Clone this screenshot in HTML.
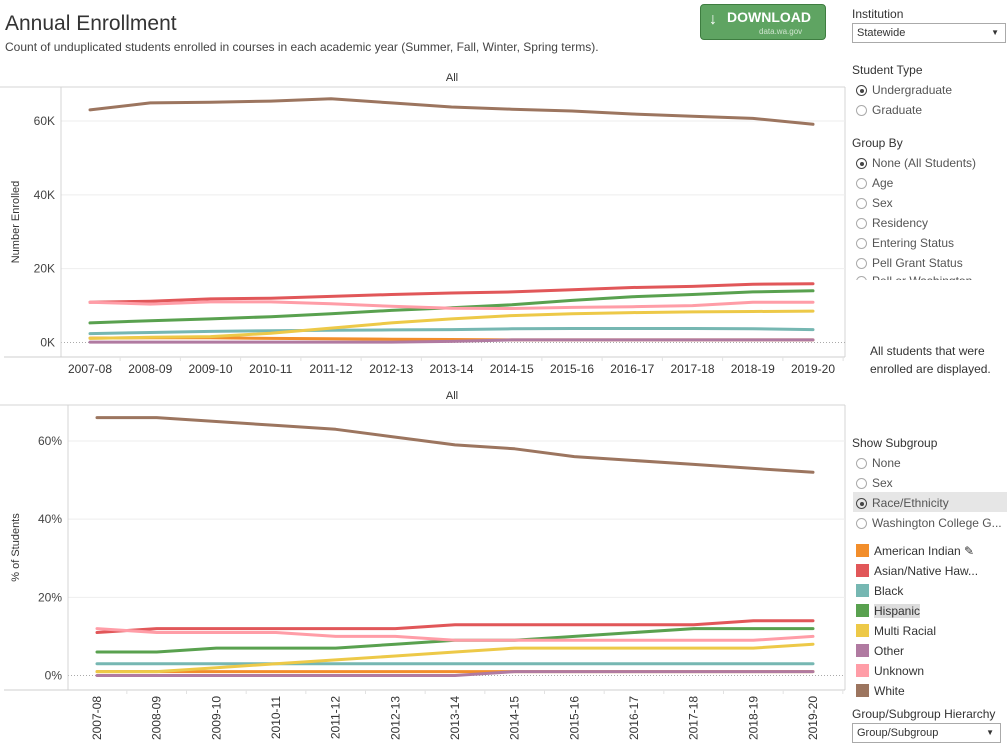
<!DOCTYPE html>
<html><head><meta charset="utf-8">
<style>
body{margin:0;width:1008px;height:754px;background:#fff;font-family:"Liberation Sans",sans-serif;overflow:hidden;position:relative;color:#333}
.abs{position:absolute}
.t{font-size:12px;color:#333}
.radio{position:absolute;left:856px;font-size:12px;color:#555;height:20px;line-height:20px}
.radio i{display:inline-block;width:11px;height:11px;border:1px solid #aaa;border-radius:50%;vertical-align:-2px;margin-right:5px;box-sizing:border-box;position:relative}
.radio i.on{border-color:#444}
.radio i.on:after{content:"";position:absolute;left:2.5px;top:2.5px;width:4px;height:4px;border-radius:50%;background:#444}
.leg{position:absolute;left:856px;font-size:12px;color:#333;height:20px;line-height:20px}
.leg b{display:inline-block;width:13px;height:13px;vertical-align:-2px;margin-right:5px}
.sel{position:absolute;border:1px solid #aaa;font-size:11px;color:#333;padding-left:4px;line-height:18px;height:18px;box-sizing:content-box}
.sel span{position:absolute;right:6px;top:0;font-size:8px}
</style></head><body>
<div class="abs" style="left:5px;top:12px;font-size:21px;color:#333">Annual Enrollment</div>
<div class="abs" style="left:5px;top:40px;font-size:12px;color:#444">Count of unduplicated students enrolled in courses in each academic year (Summer, Fall, Winter, Spring terms).</div>
<div class="abs" style="left:700px;top:4px;width:124px;height:34px;background:#5fa462;border:1px solid #3e7d40;border-radius:4px;color:#fff">
 <div style="position:absolute;left:8px;top:6px;font-size:16px">↓</div>
 <div style="position:absolute;left:26px;top:4px;font-size:14px;font-weight:bold">DOWNLOAD</div>
 <div style="position:absolute;left:58px;top:22px;font-size:8px;color:#cfe5cf">data.wa.gov</div>
</div>

<svg class="abs" style="left:0;top:0" width="846" height="754">
 <g id="top"></g>
 <g id="bot"></g>
</svg>

<div class="abs t" style="left:852px;top:7px">Institution</div>
<div class="sel" style="left:852px;top:23px;width:148px">Statewide<span>▼</span></div>
<div class="abs t" style="left:852px;top:63px">Student Type</div>
<div class="radio" style="top:80px"><i class="on"></i>Undergraduate</div>
<div class="radio" style="top:100px"><i></i>Graduate</div>
<div class="abs t" style="left:852px;top:136px">Group By</div>
<div class="radio" style="top:153px"><i class="on"></i>None (All Students)</div>
<div class="radio" style="top:173px"><i></i>Age</div>
<div class="radio" style="top:193px"><i></i>Sex</div>
<div class="radio" style="top:213px"><i></i>Residency</div>
<div class="radio" style="top:233px"><i></i>Entering Status</div>
<div class="radio" style="top:253px"><i></i>Pell Grant Status</div>
<div class="radio" style="top:271px;height:9px;overflow:hidden;line-height:20px"><i></i>Pell or Washington</div>
<div class="abs t" style="left:870px;top:342px;line-height:18px;text-align:left">All students that were<br>enrolled are displayed.</div>

<div class="abs t" style="left:852px;top:436px">Show Subgroup</div>
<div class="radio" style="top:453px"><i></i>None</div>
<div class="radio" style="top:473px"><i></i>Sex</div>
<div class="abs" style="left:853px;top:492px;width:154px;height:20px;background:#e6e6e6"></div>
<div class="radio" style="top:493px"><i class="on"></i>Race/Ethnicity</div>
<div class="radio" style="top:513px;white-space:nowrap;width:150px;overflow:hidden"><i></i>Washington College G...</div>

<div class="leg" style="top:541px"><b style="background:#f28e2b"></b>American Indian ✎</div>
<div class="leg" style="top:561px"><b style="background:#e15759"></b>Asian/Native Haw...</div>
<div class="leg" style="top:581px"><b style="background:#76b7b2"></b>Black</div>
<div class="leg" style="top:601px"><b style="background:#59a14f"></b><span style="background:#ddd">Hispanic</span></div>
<div class="leg" style="top:621px"><b style="background:#edc948"></b>Multi Racial</div>
<div class="leg" style="top:641px"><b style="background:#b07aa1"></b>Other</div>
<div class="leg" style="top:661px"><b style="background:#ff9da7"></b>Unknown</div>
<div class="leg" style="top:681px"><b style="background:#9c755f"></b>White</div>
<div class="abs t" style="left:852px;top:707px">Group/Subgroup Hierarchy</div>
<div class="sel" style="left:852px;top:723px;width:143px">Group/Subgroup<span>▼</span></div>

<script>
const years=["2007-08","2008-09","2009-10","2010-11","2011-12","2012-13","2013-14","2014-15","2015-16","2016-17","2017-18","2018-19","2019-20"];
const seriesNames=["American Indian","Asian/Native Hawaiian","Black","Hispanic","Multi Racial","Other","Unknown","White"];
const seriesColors=["#f28e2b","#e15759","#76b7b2","#59a14f","#edc948","#b07aa1","#ff9da7","#9c755f"];
const countAmInd=[1.2,1.3,1.3,1.1,1.0,0.9,0.8,0.7,0.7,0.7,0.7,0.7,0.7];
const countAsian=[10.9,11.2,11.8,12.0,12.5,13.0,13.4,13.7,14.3,14.9,15.2,15.8,15.9];
const countBlack=[2.4,2.7,3.0,3.2,3.3,3.4,3.5,3.7,3.8,3.8,3.8,3.7,3.5];
const countHisp=[5.3,5.9,6.4,7.0,7.8,8.7,9.4,10.2,11.4,12.4,13.0,13.7,14.0];
const countMulti=[1.1,1.4,1.6,2.5,3.9,5.3,6.4,7.3,7.8,8.1,8.3,8.4,8.5];
const countOther=[0.1,0.1,0.1,0.1,0.1,0.1,0.3,0.7,0.7,0.7,0.7,0.7,0.7];
const countUnknown=[10.9,10.4,11.0,11.0,10.5,9.8,9.3,9.2,9.5,9.7,10.0,10.9,10.9];
const countWhite=[63.0,64.9,65.1,65.4,66.0,64.9,63.8,63.2,62.7,61.9,61.3,60.7,59.1];
const pctAmInd=[1,1,1,1,1,1,1,1,1,1,1,1,1];
const pctAsian=[11,12,12,12,12,12,13,13,13,13,13,14,14];
const pctBlack=[3,3,3,3,3,3,3,3,3,3,3,3,3];
const pctHisp=[6,6,7,7,7,8,9,9,10,11,12,12,12];
const pctMulti=[1,1,2,3,4,5,6,7,7,7,7,7,8];
const pctOther=[0,0,0,0,0,0,0,1,1,1,1,1,1];
const pctUnknown=[12,11,11,11,10,10,9,9,9,9,9,9,10];
const pctWhite=[66,66,65,64,63,61,59,58,56,55,54,53,52];
const topTicks=[0,20,40,60];
const topTickLabels=["0K","20K","40K","60K"];
const botTicks=[0,20,40,60];
const botTickLabels=["0%","20%","40%","60%"];

const NS="http://www.w3.org/2000/svg";
function mk(parent,tag,attrs){const e=document.createElementNS(NS,tag);for(const k in attrs)e.setAttribute(k,attrs[k]);parent.appendChild(e);return e;}
const xTop=i=>90+i*(813-90)/(years.length-1);
const xBot=i=>97+i*(813-97)/(years.length-1);
const yTop=v=>342.5-v*(342.5-121)/60;
const yBot=v=>675.5-v*(675.5-441)/60;

function drawChart(g,axX,fTop,axBot,xS,ticks,labels,yS,data,rot,title){
  let e=mk(g,'line',{x1:0,x2:845,y1:fTop,y2:fTop,stroke:'#d4d4d4'});
  
  
  e=mk(g,'line',{x1:845,x2:845,y1:fTop,y2:axBot,stroke:'#d4d4d4'});
  
  
  e=mk(g,'text',{x:452,y:fTop-6,'font-size':11,fill:'#333','text-anchor':'middle'});e.textContent='All';
  
  
  ticks.forEach((t,i)=>{
    const y=yS(t);
    if(t===0){e=mk(g,'line',{x1:axX,x2:845,y1:y,y2:y,stroke:'#aaa','stroke-dasharray':'1,2'});}
    else{e=mk(g,'line',{x1:axX,x2:845,y1:y,y2:y,stroke:'#eeeeee'});}
    
    
    e=mk(g,'text',{x:axX-6,y:y+4,'font-size':12,fill:'#444','text-anchor':'end'});e.textContent=labels[i];
    
    
  });
  e=mk(g,'line',{x1:axX,x2:axX,y1:fTop,y2:axBot,stroke:'#d4d4d4'});
  
  
  e=mk(g,'line',{x1:4,x2:845,y1:axBot,y2:axBot,stroke:'#cfcfcf'});
  
  
  const step=xS(1)-xS(0);
  years.forEach((yr,i)=>{
    const x=xS(i);
    mk(g,'line',{x1:x+step/2,x2:x+step/2,y1:axBot,y2:axBot+4,stroke:'#e2e2e2'});
    if(rot){e=mk(g,'text',{x:0,y:0,'font-size':12,fill:'#333','text-anchor':'end',transform:`translate(${x+4},${axBot+6}) rotate(-90)`});}
    else{e=mk(g,'text',{x:x,y:axBot+16,'font-size':12,fill:'#333','text-anchor':'middle'});}
    e.textContent=yr;
    
    
  });
  e=mk(g,'text',{x:0,y:0,'font-size':11,fill:'#333','text-anchor':'middle',transform:`translate(19,${(fTop+axBot)/2}) rotate(-90)`});e.textContent=title;
  
  
  data.forEach((vals,s)=>{
    const pts=vals.map((v,i)=>xS(i).toFixed(1)+','+yS(v).toFixed(1)).join(' ');
    e=mk(g,'polyline',{points:pts,fill:'none',stroke:seriesColors[s],'stroke-width':3,'stroke-linejoin':'round','stroke-linecap':'round'});
    
    
  });
}
drawChart(document.getElementById('top'),61,87,357,xTop,topTicks,topTickLabels,yTop,
 [countAmInd,countAsian,countBlack,countHisp,countMulti,countOther,countUnknown,countWhite],false,'Number Enrolled');
drawChart(document.getElementById('bot'),68,405,690,xBot,botTicks,botTickLabels,yBot,
 [pctAmInd,pctAsian,pctBlack,pctHisp,pctMulti,pctOther,pctUnknown,pctWhite],true,'% of Students');
</script>
</body></html>
